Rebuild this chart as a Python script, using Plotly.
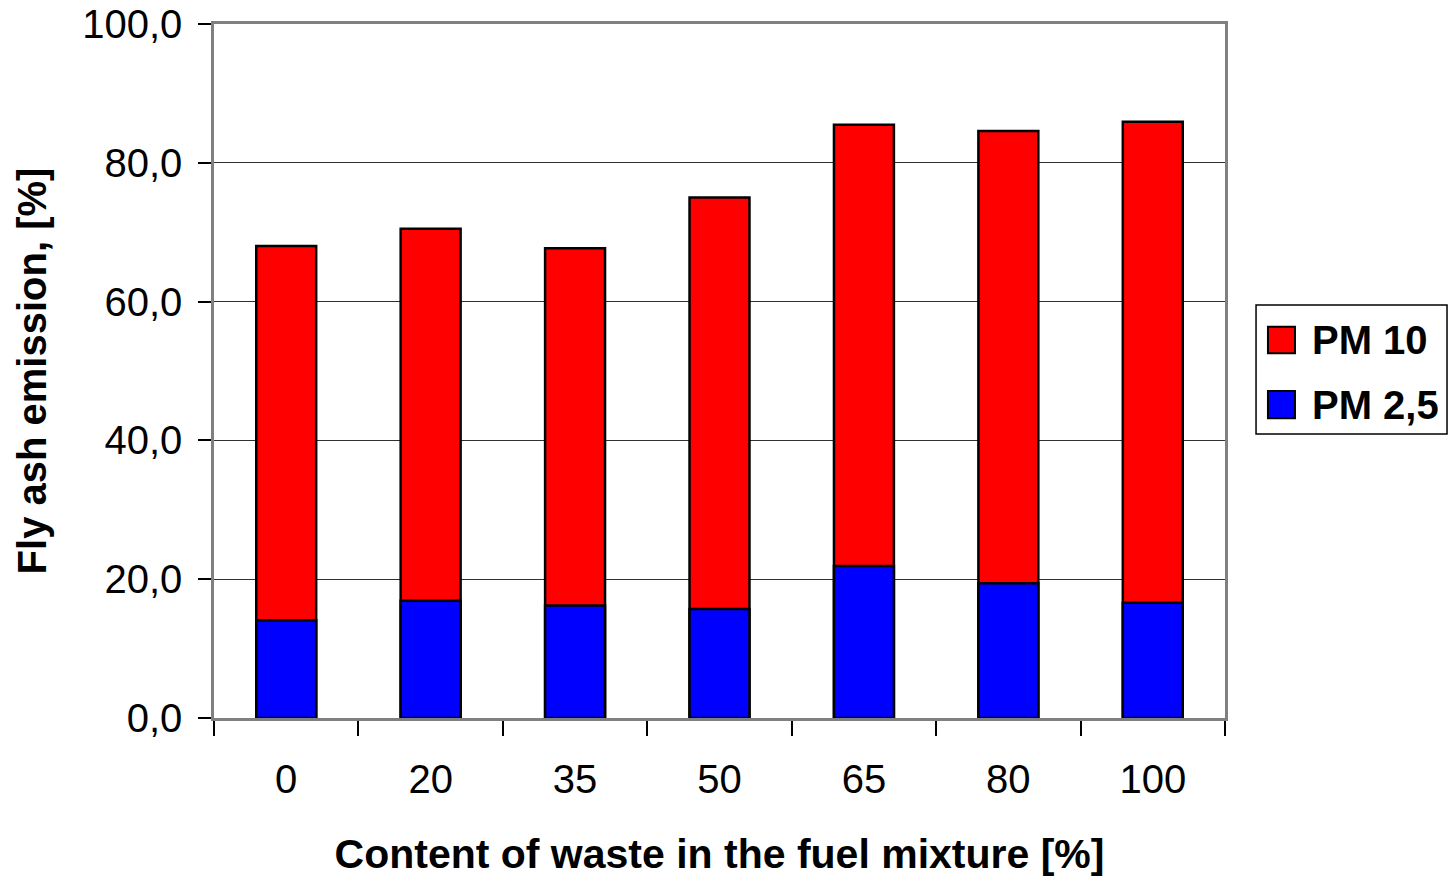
import plotly.graph_objects as go

# Waste share in the fuel mixture [%]
categories = ["0", "20", "35", "50", "65", "80", "100"]
# Fly ash emission [%]
pm10 = [68.0, 70.5, 67.7, 75.0, 85.5, 84.6, 85.9]
pm25 = [14.1, 16.9, 16.2, 15.7, 21.9, 19.4, 16.6]
y_ticks = [0, 20, 40, 60, 80, 100]

series_names = ["PM 10", "PM 2,5"]
series_colors = ["#FF0000", "#0000FF"]

FONT = "Liberation Sans, Arial, sans-serif"

fig = go.Figure()
for name, values, color in zip(series_names, [pm10, pm25], series_colors):
    fig.add_trace(go.Bar(
        x=categories, y=values, name=name, showlegend=False,
        marker=dict(color=color, line=dict(color="#000000", width=2.5)),
    ))

# Boxed legend with large square swatches (paper coordinates)
fig.add_shape(type="rect", xref="paper", yref="paper",
              x0=1.0307, x1=1.2196, y0=0.4092, y1=0.5951,
              line=dict(color="black", width=1.5), fillcolor="white")
swatch_rows = [(0.5255, 0.5638), (0.4318, 0.4712)]
for (y0, y1), name, color in zip(swatch_rows, series_names, series_colors):
    fig.add_shape(type="rect", xref="paper", yref="paper",
                  x0=1.0425, x1=1.0692, y0=y0, y1=y1,
                  line=dict(color="black", width=2), fillcolor=color)
    fig.add_annotation(xref="paper", yref="paper", x=1.0841, y=(y0 + y1) / 2,
                       xanchor="left", yanchor="middle", showarrow=False,
                       text=name, font=dict(size=40, family=FONT, weight="bold"))

fig.update_layout(
    width=1453, height=877,
    margin=dict(l=214, r=228, t=24, b=159),
    barmode="overlay", bargap=0.585,
    separators=", ",
    paper_bgcolor="white", plot_bgcolor="white",
    font=dict(family=FONT, color="black"),
    showlegend=False,
    xaxis=dict(
        type="category", tickson="boundaries", automargin=False,
        ticks="outside", ticklen=15, tickcolor="black", tickwidth=1.5,
        tickfont=dict(size=40, family=FONT), ticklabelstandoff=24,
        showline=True, linecolor="#808080", linewidth=2.5, mirror=True,
        showgrid=False,
        title=dict(text="Content of waste in the fuel mixture [%]",
                   font=dict(size=41, family=FONT, weight="bold"), standoff=40),
    ),
    yaxis=dict(
        range=[0, 100], tickvals=y_ticks, tickformat=".1f", automargin=False,
        ticks="outside", ticklen=13, tickcolor="black", tickwidth=1.5,
        tickfont=dict(size=40, family=FONT), ticklabelstandoff=8,
        showline=True, linecolor="#808080", linewidth=2.5, mirror=True,
        showgrid=True, gridcolor="#303030", gridwidth=1,
        zeroline=False,
        title=dict(text="Fly ash emission, [%]",
                   font=dict(size=40, family=FONT, weight="bold"), standoff=24),
    ),
)

fig.write_html("out.html")
